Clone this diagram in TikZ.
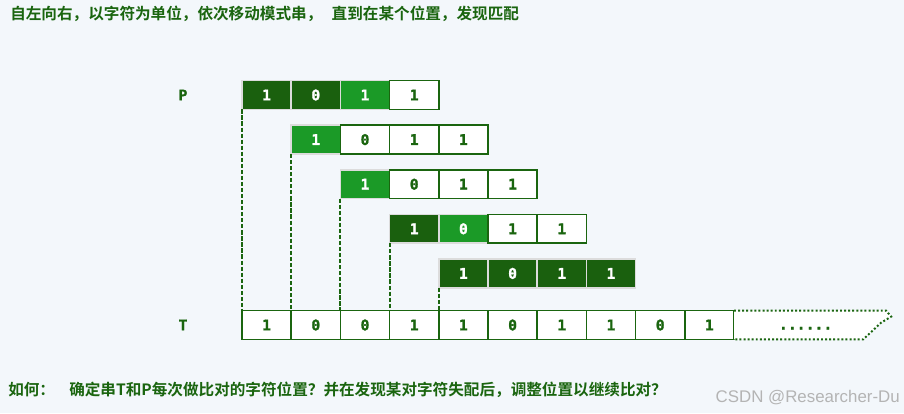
\documentclass[tikz,border=0pt]{standalone}
\usepackage{fontspec}
\setmonofont{DejaVu Sans Mono}[BoldFont={DejaVu Sans Mono Bold}, BoldFeatures={FakeBold=1.2}]
\newfontfamily\cjkfont{Noto Sans CJK SC}[BoldFont={Noto Sans CJK SC Bold}]
\newfontfamily\markfont{Liberation Sans}
\usetikzlibrary{positioning}
\definecolor{hitgreen}{HTML}{1A600E}
\definecolor{curgreen}{HTML}{1B9A27}
\definecolor{linegreen}{HTML}{1A650F}
\definecolor{cellgray}{HTML}{DCDCDC}
\definecolor{pagebg}{HTML}{F3F7FB}
\definecolor{markgray}{HTML}{B4B4B4}

\begin{document}
\begin{tikzpicture}[
    cell/.style={
        minimum width=1.23cm, minimum height=0.72cm, inner sep=0pt,
        outer sep=0pt, line width=1.2pt,
        font=\ttfamily\bfseries\fontsize{10.5}{11}\selectfont
    },
    idle/.style={
        cell, draw=linegreen, fill=white, text=linegreen
    },
    hit/.style={
        cell, draw=cellgray, fill=hitgreen, text=white
    },
    cur/.style={
        cell, draw=cellgray, fill=curgreen, text=white
    },
    rowlbl/.style={
        font=\ttfamily\bfseries\fontsize{10.5}{11}\selectfont, text=linegreen
    },
    note/.style={
        font=\cjkfont\bfseries\fontsize{11.1}{12}\selectfont, text=linegreen,
        anchor=west, inner sep=0pt
    },
    guide/.style={
        linegreen, line width=1.3pt, dash pattern=on 3pt off 1.3pt
    }
]

% Page: 904x413 px, 40 px per cm
\fill[pagebg] (0,0) rectangle (22.6,-10.325);
\useasboundingbox (0,0) rectangle (22.6,-10.325);

% Heading
\node[note] (title) at (0.25,-0.35) {自左向右，以字符为单位，依次移动模式串，\hspace{0.6em}直到在某个位置，发现匹配};

% Text T (cells t0..t9)
\node[rowlbl] (tlbl) at (4.575,-8.125) {T};
\foreach \v [count=\i from 0] in {1,0,0,1,1,0,1,1,0,1} {
    \node[idle] (t\i) at ({6.05+(\i+0.5)*1.23}, -8.125) {\v};
}
% open end of the text
\draw[linegreen, fill=white, line width=1.4pt, dash pattern=on 1.4pt off 1.5pt]
    (t9.north east) -- ++(3.8,0) -- ++(0.13,-0.15) -- ++(-0.25,-0.15)
    -- ++(-0.45,-0.42) -- (t9.south east);
\node[rowlbl, right=1cm of t9, yshift=-0.08cm] (more) {......};

% Pattern P, one row per shift: style/value of each cell
\node[rowlbl] (plbl) at (4.575,-2.375) {P};
\foreach \r/\cells in {
    0/{hit/1,hit/0,cur/1,idle/1},
    1/{cur/1,idle/0,idle/1,idle/1},
    2/{cur/1,idle/0,idle/1,idle/1},
    3/{hit/1,cur/0,idle/1,idle/1},
    4/{hit/1,hit/0,hit/1,hit/1}} {
    \foreach \s/\v [count=\c] in \cells {
        \node[\s] (p\r-\c) at ({6.05+(\r+\c-0.5)*1.23}, {-2.375-1.115*\r}) {\v};
    }
}

% Alignment guides, pattern start down to the text
\foreach \r in {0,...,4} {
    \draw[guide] (p\r-1.south west) -- (t\r.north west);
}

% Question
\node[note] (howto) at (0.2,-9.75) {如何：};
\node[note] (question) at (1.725,-9.75) {确定串T和P每次做比对的字符位置？并在发现某对字符失配后，调整位置以继续比对？};

\node[font=\markfont\fontsize{12}{14}\selectfont, text=markgray, anchor=east, inner sep=0pt] (mark) at (22.5,-9.95) {CSDN @Researcher-Du};

\end{tikzpicture}
\end{document}
